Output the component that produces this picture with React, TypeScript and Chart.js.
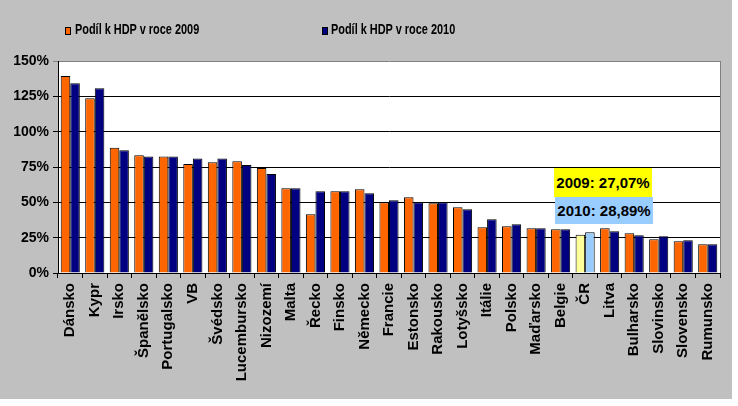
import React, { useEffect, useRef } from "react";
import { Chart, registerables } from "chart.js";

Chart.register(...registerables);

const categories = [
  "Dánsko", "Kypr", "Irsko", "Španělsko", "Portugalsko", "VB", "Švédsko",
  "Lucembursko", "Nizozemí", "Malta", "Řecko", "Finsko", "Německo", "Francie",
  "Estonsko", "Rakousko", "Lotyšsko", "Itálie", "Polsko", "Maďarsko", "Belgie",
  "ČR", "Litva", "Bulharsko", "Slovinsko", "Slovensko", "Rumunsko",
];
const values2009 = [
  139.4, 123.6, 88.7, 83.3, 82.5, 77.1, 78.3, 79.0, 74.3, 59.9, 41.5, 57.8,
  59.2, 50.0, 53.6, 49.3, 46.5, 32.3, 33.0, 31.6, 30.9, 27.07, 31.6, 28.1,
  23.8, 22.4, 20.3,
];
const values2010 = [
  134.2, 130.7, 86.8, 82.5, 82.5, 81.1, 81.1, 76.4, 70.0, 59.9, 57.8, 57.8,
  56.4, 51.4, 50.0, 50.0, 45.1, 38.0, 34.5, 31.6, 30.9, 28.89, 29.5, 26.7,
  26.0, 23.1, 20.3,
];
const seriesNames = ["Podíl k HDP v roce 2009", "Podíl k HDP v roce 2010"];
const yTicks = [0, 25, 50, 75, 100, 125, 150];
const highlight = "ČR";

const fmt = (v: number) => v.toFixed(2).replace(".", ",") + "%";
const hiIdx = categories.indexOf(highlight);
const note2009 = "2009: " + fmt(values2009[hiIdx]);
const note2010 = "2010: " + fmt(values2010[hiIdx]);

const FONT = "'Liberation Sans', Arial, sans-serif";

export default function App() {
  const ref = useRef<HTMLCanvasElement>(null);
  useEffect(() => {
    document.body.style.margin = "0";
    const c1 = categories.map((c) => (c === highlight ? "#FFFF99" : "#FF6600"));
    const c2 = categories.map((c) => (c === highlight ? "#99CCFF" : "#000080"));
    const bgPlugin = {
      id: "bg",
      beforeDraw(chart: any) {
        const { ctx, chartArea: a } = chart;
        ctx.save();
        ctx.fillStyle = "#FFFFFF";
        ctx.fillRect(a.left, a.top, a.right - a.left, a.bottom - a.top);
        ctx.restore();
      },
      afterDraw(chart: any) {
        const { ctx, chartArea: a } = chart;
        ctx.save();
        ctx.strokeStyle = "#808080";
        ctx.lineWidth = 1;
        ctx.beginPath();
        ctx.moveTo(Math.round(a.right) + 0.5, a.top);
        ctx.lineTo(Math.round(a.right) + 0.5, a.bottom);
        ctx.stroke();
        ctx.restore();
      },
    };
    const chart = new Chart(ref.current!, {
      type: "bar",
      data: {
        labels: categories,
        datasets: [
          {
            label: seriesNames[0],
            data: values2009,
            backgroundColor: c1,
            borderColor: "#000000",
            borderWidth: 1,
          },
          {
            label: seriesNames[1],
            data: values2010,
            backgroundColor: c2,
            borderColor: "#000000",
            borderWidth: 1,
          },
        ],
      },
      plugins: [bgPlugin],
      options: {
        animation: false,
        responsive: false,
        layout: { padding: { top: 61, right: 12, left: 0, bottom: 0 } },
        datasets: { bar: { categoryPercentage: 0.78, barPercentage: 1 } },
        plugins: { legend: { display: false }, tooltip: { enabled: false } },
        scales: {
          x: {
            afterFit: (s: any) => {
              s.height = 126;
            },
            grid: {
              drawOnChartArea: false,
              drawTicks: true,
              tickLength: 5,
              color: "#000000",
              offset: true,
            },
            border: { color: "#000000" },
            ticks: {
              autoSkip: false,
              maxRotation: 90,
              minRotation: 90,
              padding: 5,
              color: "#000000",
              font: { family: FONT, size: 15, weight: "bold" },
            },
          },
          y: {
            min: 0,
            max: 150,
            afterFit: (s: any) => {
              s.width = 58;
            },
            afterBuildTicks: (s: any) => {
              s.ticks = yTicks.map((v) => ({ value: v }));
            },
            grid: {
              color: (ctx: any) =>
                ctx.tick && ctx.tick.value === 150 ? "#808080" : "#000000",
              tickLength: 5,
              lineWidth: 1,
            },
            border: { color: "#000000" },
            ticks: {
              padding: 4,
              color: "#000000",
              font: { family: FONT, size: 14, weight: "bold" },
              callback: (v: any) => v + "%",
            },
          },
        },
      },
    } as any);
    return () => chart.destroy();
  }, []);

  const legendText: React.CSSProperties = {
    position: "absolute",
    top: 21,
    fontFamily: FONT,
    fontWeight: "bold",
    fontSize: 14,
    lineHeight: "16px",
    whiteSpace: "nowrap",
    transform: "scaleX(0.78)",
    transformOrigin: "left center",
    color: "#000",
  };
  const box: React.CSSProperties = {
    position: "absolute",
    top: 27,
    width: 6,
    height: 8,
    border: "1px solid #000",
    boxSizing: "border-box",
  };
  const note: React.CSSProperties = {
    position: "absolute",
    width: 98,
    textAlign: "center",
    fontFamily: FONT,
    fontWeight: "bold",
    fontSize: 15,
    color: "#000",
    whiteSpace: "nowrap",
  };

  return (
    <div style={{ position: "relative", width: 732, height: 399, background: "#C0C0C0" }}>
      <canvas ref={ref} width={732} height={399} style={{ display: "block" }} />
      <div style={{ ...box, left: 65, background: "#FF6600" }} />
      <div style={{ ...legendText, left: 75 }}>{seriesNames[0]}</div>
      <div style={{ ...box, left: 322, background: "#000080" }} />
      <div style={{ ...legendText, left: 331 }}>{seriesNames[1]}</div>
      <div style={{ ...note, left: 554, top: 168, height: 29, lineHeight: "29px", background: "#FFFF00" }}>
        {note2009}
      </div>
      <div style={{ ...note, left: 555, top: 197, height: 27, lineHeight: "27px", background: "#99CCFF" }}>
        {note2010}
      </div>
    </div>
  );
}
